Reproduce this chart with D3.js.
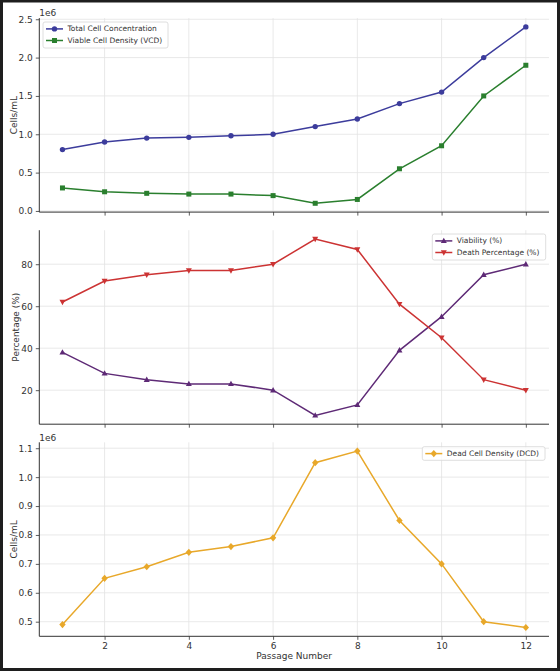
<!DOCTYPE html>
<html><head><meta charset="utf-8">
<script src="https://cdn.jsdelivr.net/npm/d3@7/dist/d3.min.js"></script>
<style>body{margin:0;background:#fff}svg{display:block;font-family:"DejaVu Sans",sans-serif}</style>
</head><body>
<script>
const passages = [1,2,3,4,5,6,7,8,9,10,11,12];
const totalCells = [0.8,0.9,0.95,0.96,0.98,1.0,1.1,1.2,1.4,1.55,2.0,2.4];
const viableCells = [0.3,0.25,0.23,0.22,0.22,0.2,0.1,0.15,0.55,0.85,1.5,1.9];
const viability = [38,28,25,23,23,20,8,13,39,55,75,80];
const deathPct = [62,72,75,77,77,80,92,87,61,45,25,20];
const deadCells = [0.49,0.65,0.69,0.74,0.76,0.79,1.05,1.09,0.85,0.70,0.50,0.48];
const xTicks = [2,4,6,8,10,12];
const yTicks1 = [0,0.5,1.0,1.5,2.0,2.5];
const yTicks2 = [20,40,60,80];
const yTicks3 = [0.5,0.6,0.7,0.8,0.9,1.0,1.1];

const W=560,H=671;
const svg=d3.select("body").append("svg").attr("width",W).attr("height",H);
svg.append("rect").attr("x",0).attr("y",0).attr("width",W).attr("height",H).attr("fill","#fff");

const left=39.3,right=549,ph=194;
const x=d3.scaleLinear().domain([0.45,12.55]).range([left,right]);
const textCol="#333";

const panels=[
 {top:18.1,dom:[-0.015,2.515],ticks:yTicks1,fmt:d3.format(".1f"),label:"Cells/mL",labelX:13.5,offset:true,xlabels:false,
  series:[{v:totalCells,c:"#3c3c9c",m:"circle",name:"Total Cell Concentration"},{v:viableCells,c:"#2a7f2e",m:"square",name:"Viable Cell Density (VCD)"}],
  legend:{x:43,y:22,w:125,h:26}},
 {top:230.2,dom:[3.8,96.2],ticks:yTicks2,fmt:d3.format("d"),label:"Percentage (%)",labelX:16,offset:false,xlabels:false,
  series:[{v:viability,c:"#5e2a76",m:"tri",name:"Viability (%)"},{v:deathPct,c:"#cc3333",m:"tridown",name:"Death Percentage (%)"}],
  legend:{x:432.3,y:234,w:113.4,h:26}},
 {top:442.3,dom:[0.4495,1.1205],ticks:yTicks3,fmt:d3.format(".1f"),label:"Cells/mL",labelX:13.5,offset:true,xlabels:true,
  series:[{v:deadCells,c:"#e8a82a",m:"diamond",name:"Dead Cell Density (DCD)"}],
  legend:{x:422.3,y:446.7,w:122.7,h:13.6}}
];

function marker(g,type,cx,cy,c){
  if(type==="circle") g.append("circle").attr("cx",cx).attr("cy",cy).attr("r",2.7).attr("fill",c);
  else if(type==="square") g.append("rect").attr("x",cx-2.5).attr("y",cy-2.5).attr("width",5).attr("height",5).attr("fill",c);
  else if(type==="tri") g.append("path").attr("d",`M${cx},${cy-3.2}L${cx+3},${cy+2.2}L${cx-3},${cy+2.2}Z`).attr("fill",c);
  else if(type==="tridown") g.append("path").attr("d",`M${cx},${cy+3.2}L${cx+3},${cy-2.2}L${cx-3},${cy-2.2}Z`).attr("fill",c);
  else if(type==="diamond") g.append("path").attr("d",`M${cx},${cy-3.6}L${cx+3.2},${cy}L${cx},${cy+3.6}L${cx-3.2},${cy}Z`).attr("fill",c);
}

panels.forEach(p=>{
  const bottom=p.top+ph;
  const y=d3.scaleLinear().domain(p.dom).range([bottom,p.top]);
  const g=svg.append("g");
  // grid
  g.selectAll(".vg").data(xTicks).enter().append("line")
   .attr("x1",d=>x(d)).attr("x2",d=>x(d)).attr("y1",p.top).attr("y2",bottom)
   .attr("stroke","#e3e3e3").attr("stroke-width",0.8);
  g.selectAll(".hg").data(p.ticks).enter().append("line")
   .attr("x1",left).attr("x2",right).attr("y1",d=>y(d)).attr("y2",d=>y(d))
   .attr("stroke","#e3e3e3").attr("stroke-width",0.8);
  // axes
  const xa=d3.axisBottom(x).tickValues(xTicks).tickSize(3.5).tickPadding(3).tickFormat(p.xlabels?d3.format("d"):"");
  const gx=g.append("g").attr("transform",`translate(0,${bottom})`).call(xa);
  gx.select(".domain").remove();
  gx.append("line").attr("x1",left).attr("x2",right).attr("stroke",textCol).attr("stroke-width",1);
  const ya=d3.axisLeft(y).tickValues(p.ticks).tickSize(3.5).tickPadding(3).tickFormat(p.fmt);
  const gy=g.append("g").attr("transform",`translate(${left},0)`).call(ya);
  gy.select(".domain").remove();
  gy.append("line").attr("y1",p.top).attr("y2",bottom).attr("stroke",textCol).attr("stroke-width",1);
  [gx,gy].forEach(a=>{a.selectAll("text").attr("font-size",9).attr("fill",textCol).attr("font-family","DejaVu Sans");
    a.selectAll(".tick line").attr("stroke",textCol).attr("stroke-width",0.8);});
  // y label
  g.append("text").attr("transform",`translate(${p.labelX},${(p.top+bottom)/2}) rotate(-90)`)
   .attr("text-anchor","middle").attr("dominant-baseline","central").attr("font-size",9).attr("fill",textCol).text(p.label);
  if(p.offset) g.append("text").attr("x",left).attr("y",p.top-1.8).attr("font-size",9).attr("fill",textCol).text("1e6");
  // series
  p.series.forEach(s=>{
    const line=d3.line().x((d,i)=>x(passages[i])).y(d=>y(d));
    g.append("path").datum(s.v).attr("d",line).attr("fill","none").attr("stroke",s.c).attr("stroke-width",1.5);
    s.v.forEach((d,i)=>marker(g,s.m,x(passages[i]),y(d),s.c));
  });
  // legend
  const L=p.legend;
  const lg=svg.append("g");
  lg.append("rect").attr("x",L.x).attr("y",L.y).attr("width",L.w).attr("height",L.h).attr("rx",2)
    .attr("fill","rgba(255,255,255,0.8)").attr("stroke","#d6d6d6").attr("stroke-width",0.8);
  p.series.forEach((s,i)=>{
    const cy=L.y+6.9+i*11.6;
    lg.append("line").attr("x1",L.x+3).attr("x2",L.x+20).attr("y1",cy).attr("y2",cy).attr("stroke",s.c).attr("stroke-width",1.5);
    marker(lg,s.m,L.x+11.5,cy,s.c);
    lg.append("text").attr("x",L.x+24.5).attr("y",cy).attr("dominant-baseline","central").attr("font-size",7.5).attr("fill",textCol).text(s.name);
  });
});
// x label
svg.append("text").attr("x",(left+right)/2).attr("y",659).attr("text-anchor","middle").attr("font-size",9).attr("fill",textCol).text("Passage Number");
// outer frame
svg.append("rect").attr("x",1.5).attr("y",1).attr("width",W-3).attr("height",H-2.5).attr("fill","none").attr("stroke","#1e1e1e").attr("stroke-width",3);
</script>
</body></html>
